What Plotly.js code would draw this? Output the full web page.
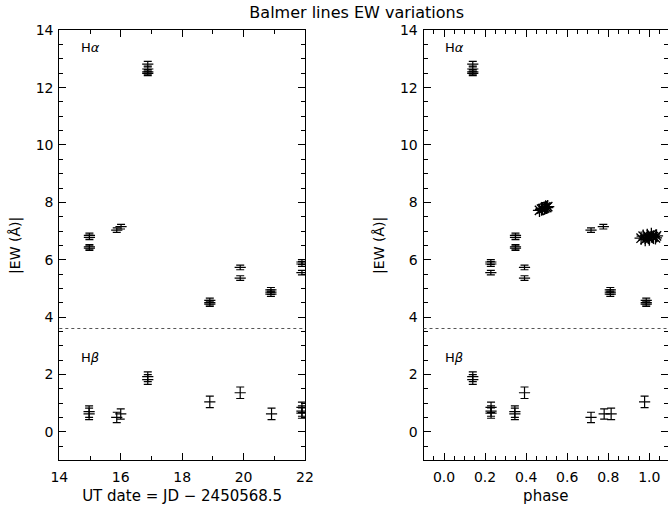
<!DOCTYPE html>
<html>
<head>
<meta charset="utf-8">
<script src="https://cdn.plot.ly/plotly-3.0.1.min.js"></script>
<style>html,body{margin:0;padding:0;background:#fff}#chart{width:668px;height:506px}</style>
</head>
<body>
<div id="chart"></div>
<script>
// H-alpha equivalent widths
const dateHa  = [14.98, 14.98, 14.98, 14.98, 15.87, 16.01, 16.88, 16.88, 16.88, 16.88, 18.90, 18.90, 18.90, 19.89, 19.89, 20.89, 20.89, 20.89, 21.90, 21.90, 21.90];
const phaseHa = [0.348, 0.348, 0.348, 0.348, 0.716, 0.776, 0.140, 0.140, 0.140, 0.140, 0.985, 0.985, 0.985, 0.392, 0.392, 0.810, 0.810, 0.810, 0.228, 0.228, 0.228];
const ewHa    = [6.85, 6.78, 6.45, 6.40, 7.03, 7.15, 12.82, 12.65, 12.55, 12.50, 4.58, 4.50, 4.45, 5.73, 5.36, 4.95, 4.87, 4.80, 5.92, 5.85, 5.55];
const errHa   = [0.08, 0.08, 0.08, 0.08, 0.08, 0.08, 0.10, 0.10, 0.08, 0.08, 0.08, 0.08, 0.08, 0.08, 0.08, 0.08, 0.08, 0.08, 0.08, 0.08, 0.08];

// H-beta equivalent widths
const dateHb  = [14.97, 14.97, 15.87, 16.00, 16.88, 16.88, 18.90, 19.89, 20.91, 21.90, 21.90, 21.90];
const phaseHb = [0.345, 0.345, 0.716, 0.780, 0.140, 0.140, 0.977, 0.392, 0.814, 0.229, 0.229, 0.229];
const ewHb    = [0.70, 0.62, 0.50, 0.62, 1.92, 1.82, 1.04, 1.36, 0.62, 0.85, 0.72, 0.65];
const errHb   = [0.20, 0.20, 0.18, 0.18, 0.17, 0.17, 0.20, 0.20, 0.20, 0.18, 0.18, 0.18];

// extra H-alpha measurements (asterisks, phase panel only)
const astPhase = [0.465, 0.475, 0.480, 0.490, 0.495, 0.500, 0.505, 0.960, 0.970, 0.980, 0.990, 0.995, 1.000, 1.010, 1.020, 1.030, 1.035];
const astEw    = [7.72, 7.76, 7.78, 7.80, 7.84, 7.82, 7.85, 6.75, 6.82, 6.70, 6.85, 6.78, 6.72, 6.88, 6.80, 6.76, 6.83];

const sepLevel = 3.6;

const errStyle = (arr) => ({type: 'data', array: arr, visible: true, color: '#000', thickness: 1.2, width: 4});
const barMarker = {symbol: 'line-ew-open', size: 8, color: '#000', line: {color: '#000', width: 1.2}};

const traces = [
  {x: dateHa, y: ewHa, error_y: errStyle(errHa), mode: 'markers', marker: barMarker, xaxis: 'x', yaxis: 'y', name: 'Hα'},
  {x: dateHb, y: ewHb, error_y: errStyle(errHb), mode: 'markers', marker: barMarker, xaxis: 'x', yaxis: 'y', name: 'Hβ'},
  {x: phaseHa, y: ewHa, error_y: errStyle(errHa), mode: 'markers', marker: barMarker, xaxis: 'x2', yaxis: 'y2', name: 'Hα phase'},
  {x: phaseHb, y: ewHb, error_y: errStyle(errHb), mode: 'markers', marker: barMarker, xaxis: 'x2', yaxis: 'y2', name: 'Hβ phase'},
  {x: astPhase, y: astEw, mode: 'markers', marker: {symbol: 'asterisk-open', size: 11, color: '#000', line: {color: '#000', width: 1.3}}, xaxis: 'x2', yaxis: 'y2', name: 'Hα extra'}
];

const font = {family: 'DejaVu Sans, Liberation Sans, sans-serif', size: 14, color: '#000'};
const titleFont = {family: font.family, size: 15, color: '#000'};

const axCommon = {
  showline: true, linecolor: '#000', linewidth: 1, mirror: 'ticks',
  ticks: 'inside', ticklen: 7, tickcolor: '#000', tickwidth: 1,
  showgrid: false, zeroline: false, tickfont: font
};

const layout = {
  width: 668, height: 506,
  margin: {l: 0, r: 0, t: 0, b: 0},
  paper_bgcolor: '#fff', plot_bgcolor: '#fff',
  showlegend: false,
  font: font,
  title: {text: 'Balmer lines EW variations', x: 0.534, xanchor: 'center', y: 0.975, yanchor: 'middle', yref: 'container', font: {family: font.family, size: 16, color: '#000'}},
  xaxis: Object.assign({}, axCommon, {
    domain: [0.0888, 0.4566], range: [14, 22], tick0: 14, dtick: 2, ticklabelstandoff: 4,
    minor: {dtick: 1, ticks: 'inside', ticklen: 4, tickcolor: '#000', showgrid: false},
    title: {text: 'UT date = JD − 2450568.5', font: titleFont, standoff: 6}, anchor: 'y'
  }),
  yaxis: Object.assign({}, axCommon, {
    domain: [0.0901, 0.9401], range: [-1, 14], tick0: 0, dtick: 2, ticklabelstandoff: 2,
    minor: {dtick: 0.5, ticks: 'inside', ticklen: 4, tickcolor: '#000', showgrid: false},
    title: {text: '|EW (Å)|', font: font, standoff: 11}, anchor: 'x'
  }),
  xaxis2: Object.assign({}, axCommon, {
    domain: [0.634, 1], range: [-0.1, 1.091], tick0: 0, dtick: 0.2, tickformat: '.1f', ticklabelstandoff: 4,
    minor: {dtick: 0.05, ticks: 'inside', ticklen: 4, tickcolor: '#000', showgrid: false},
    title: {text: 'phase', font: titleFont, standoff: 6}, anchor: 'y2'
  }),
  yaxis2: Object.assign({}, axCommon, {
    domain: [0.0901, 0.9401], range: [-1, 14], tick0: 0, dtick: 2, ticklabelstandoff: 2,
    minor: {dtick: 0.5, ticks: 'inside', ticklen: 4, tickcolor: '#000', showgrid: false},
    title: {text: '|EW (Å)|', font: font, standoff: 11}, anchor: 'x2'
  }),
  shapes: [
    {type: 'line', xref: 'x domain', yref: 'y', x0: 0, x1: 1, y0: sepLevel, y1: sepLevel, line: {color: '#555', width: 1.2, dash: 'dot'}},
    {type: 'line', xref: 'x2 domain', yref: 'y2', x0: 0, x1: 1, y0: sepLevel, y1: sepLevel, line: {color: '#555', width: 1.2, dash: 'dot'}}
  ],
  annotations: [
    {text: 'H<i>α</i>', xref: 'x domain', yref: 'y domain', x: 0.08, y: 0.96, xanchor: 'left', yanchor: 'middle', showarrow: false, font: {family: font.family, size: 13, color: '#000'}},
    {text: 'H<i>β</i>', xref: 'x domain', yref: 'y domain', x: 0.08, y: 0.24, xanchor: 'left', yanchor: 'middle', showarrow: false, font: {family: font.family, size: 13, color: '#000'}},
    {text: 'H<i>α</i>', xref: 'x2 domain', yref: 'y2 domain', x: 0.08, y: 0.96, xanchor: 'left', yanchor: 'middle', showarrow: false, font: {family: font.family, size: 13, color: '#000'}},
    {text: 'H<i>β</i>', xref: 'x2 domain', yref: 'y2 domain', x: 0.08, y: 0.24, xanchor: 'left', yanchor: 'middle', showarrow: false, font: {family: font.family, size: 13, color: '#000'}}
  ]
};

Plotly.newPlot('chart', traces, layout, {displayModeBar: false, staticPlot: true});
</script>
</body>
</html>
